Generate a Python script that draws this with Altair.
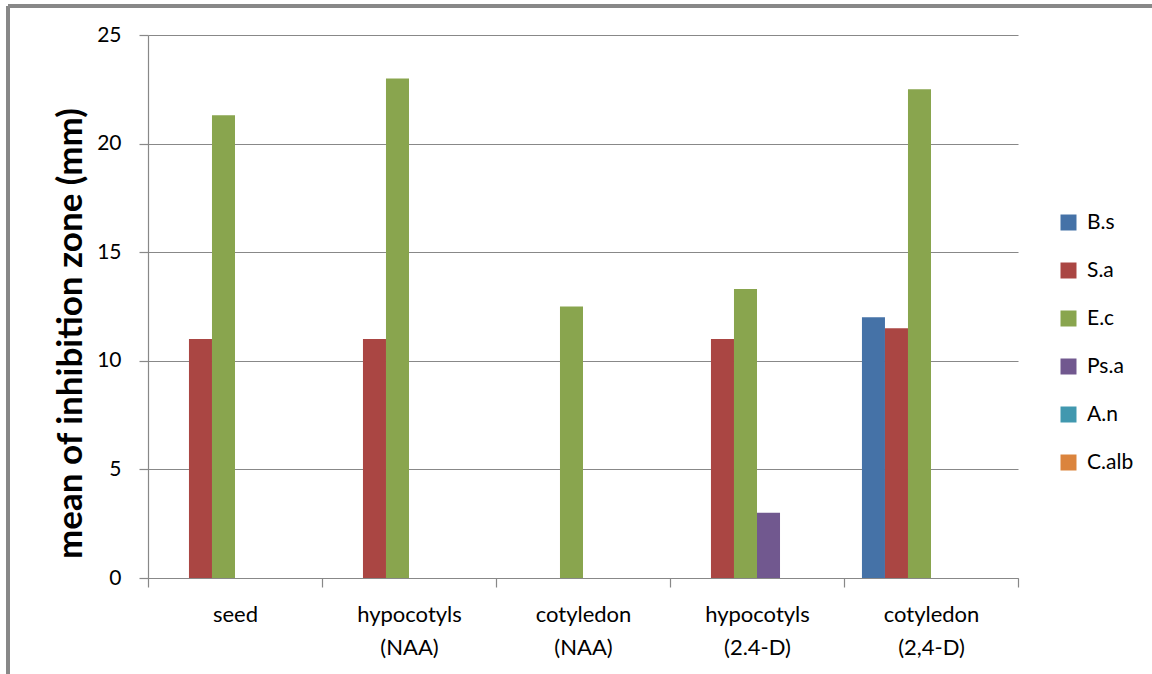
import altair as alt
import pandas as pd

categories = ["seed", "hypocotyls|(NAA)", "cotyledon|(NAA)", "hypocotyls|(2.4-D)", "cotyledon|(2,4-D)"]
series = ["B.s", "S.a", "E.c", "Ps.a", "A.n", "C.alb"]
colors = ["#4572A7", "#AA4643", "#89A54E", "#71588F", "#4198AF", "#DB843D"]

b_s = [0, 0, 0, 0, 12]
s_a = [11, 11, 0, 11, 11.5]
e_c = [21.3, 23, 12.5, 13.3, 22.5]
ps_a = [0, 0, 0, 3, 0]
a_n = [0, 0, 0, 0, 0]
c_alb = [0, 0, 0, 0, 0]

values = {"B.s": b_s, "S.a": s_a, "E.c": e_c, "Ps.a": ps_a, "A.n": a_n, "C.alb": c_alb}
rows = []
for s in series:
    for c, v in zip(categories, values[s]):
        rows.append({"category": c, "series": s, "value": v})
df = pd.DataFrame(rows)

FONT = "Lato"
W, H = 870, 543
LEFT, TOP = 148, 35

bars = alt.Chart(df).mark_bar().encode(
    x=alt.X("category:N", sort=categories,
            scale=alt.Scale(paddingInner=0, paddingOuter=0),
            axis=alt.Axis(title=None, labelAngle=0, tickBand="extent",
                          labelExpr="split(datum.label, '|')",
                          labelFont=FONT, labelFontSize=22, labelColor="#000",
                          labelLineHeight=33, labelPadding=17, labelBaseline="top",
                          domainColor="#888", tickColor="#888", tickSize=9,
                          domainWidth=1.2, tickWidth=1.2)),
    xOffset=alt.XOffset("series:N", sort=series,
                        scale=alt.Scale(domain=series, paddingInner=0, paddingOuter=0.78)),
    y=alt.Y("value:Q",
            scale=alt.Scale(domain=[0, 25], nice=False),
            axis=alt.Axis(title="mean of inhibition zone (mm)", values=[0, 5, 10, 15, 20, 25],
                          titleFont=FONT, titleFontSize=35, titleFontWeight="bold",
                          titleColor="#000", titleAngle=270, titleAlign="center",
                          titleBaseline="middle", titleX=-78, titleY=298,
                          labelFont=FONT, labelFontSize=21, labelColor="#000",
                          labelPadding=18, tickSize=9, tickColor="#888",
                          domainColor="#888", gridColor="#888", grid=True,
                          domainWidth=1.2, tickWidth=1.2, gridWidth=1.2)),
    color=alt.Color("series:N", sort=series,
                    scale=alt.Scale(domain=series, range=colors),
                    legend=alt.Legend(title=None, orient="none", legendX=910, legendY=177,
                                      symbolType="square", symbolSize=256,
                                      symbolStrokeWidth=0, labelFont=FONT,
                                      labelFontSize=21, labelColor="#000",
                                      rowPadding=26, labelOffset=8)),
)

border_top = alt.Chart(df).mark_rule(color="#888", strokeWidth=2.5).encode(
    x=alt.value(8 - LEFT), x2=alt.value(1160 - LEFT), y=alt.value(6 - TOP))
border_left = alt.Chart(df).mark_rule(color="#888", strokeWidth=2.5).encode(
    x=alt.value(8 - LEFT), y=alt.value(6 - TOP), y2=alt.value(690 - TOP))

chart = alt.layer(bars, border_top, border_left).properties(
    width=W, height=H,
    autosize=alt.AutoSizeParams(type="none"),
    padding={"left": LEFT, "top": TOP, "right": 1152 - LEFT - W, "bottom": 674 - TOP - H},
    background="white",
).configure_view(stroke=None)

chart.save("out.html", embed_options={"renderer": "svg", "actions": False})
